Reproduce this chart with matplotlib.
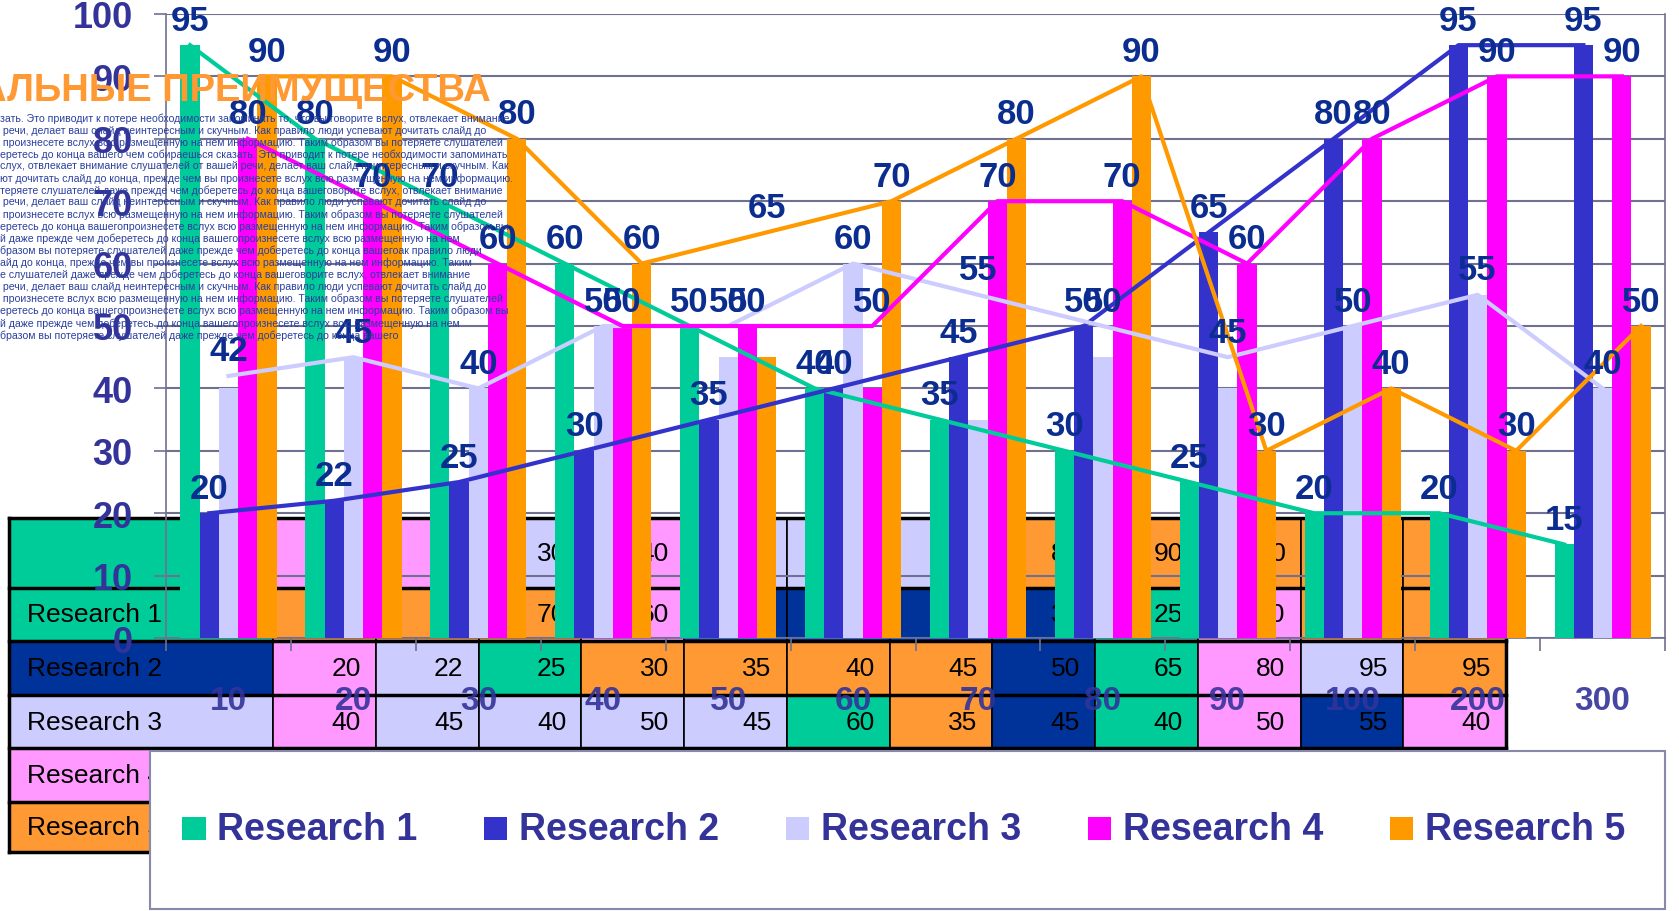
import matplotlib.pyplot as plt
import numpy as np
from matplotlib.patches import Rectangle

plt.rcParams["font.family"] = ["Liberation Sans", "DejaVu Sans"]

# categories and series (bars)
categories = ["10", "20", "30", "40", "50", "60", "70", "80", "90", "100", "200", "300"]
series_names = ["Research 1", "Research 2", "Research 3", "Research 4", "Research 5"]
research1 = [95, 80, 70, 60, 50, 40, 35, 30, 25, 20, 20, 15]
research2 = [20, 22, 25, 30, 35, 40, 45, 50, 65, 80, 95, 95]
research3 = [40, 45, 40, 50, 45, 60, 35, 45, 40, 50, 55, 40]
research4 = [80, 70, 60, 50, 50, 40, 70, 70, 60, 80, 90, 90]
research5 = [90, 90, 80, 60, 45, 70, 80, 90, 30, 40, 30, 50]

# line overlay values (labelled)
line1 = [95, 80, 70, 60, 50, 40, 35, 30, 25, 20, 20, 15]
line2 = [20, 22, 25, 30, 35, 40, 45, 50, 65, 80, 95, 95]
line3 = [42, 45, 40, 50, 50, 60, 55, 50, 45, 50, 55, 40]
line4 = [80, 70, 60, 50, 50, 50, 70, 70, 60, 80, 90, 90]
line5 = [90, 90, 80, 60, 65, 70, 80, 90, 30, 40, 30, 50]

COLORS = ["#00CC99", "#3333CC", "#CCCCFF", "#FF00FF", "#FF9900"]
GREEN, DBLUE, LAV, PINK, ORANGE = "#00CC99", "#003399", "#CCCCFF", "#FF99FF", "#FF9933"

title_text = "АЛЬНЫЕ ПРЕИМУЩЕСТВА"
body_lines = [
    "зать. Это приводит к потере необходимости запоминать то, что вы говорите вслух, отвлекает внимание",
    " речи, делает ваш слайд неинтересным и скучным. Как правило люди успевают дочитать слайд до",
    " произнесете вслух всю размещенную на нем информацию. Таким образом вы потеряете слушателей",
    "еретесь до конца вашего чем собираешься сказать. Это приводит к потере необходимости запоминать",
    "слух, отвлекает внимание слушателей от вашей речи, делает ваш слайд неинтересным и скучным. Как",
    "ют дочитать слайд до конца, прежде чем вы произнесете вслух всю размещенную на нем информацию.",
    "теряете слушателей даже прежде чем доберетесь до конца вашеговорите вслух, отвлекает внимание",
    " речи, делает ваш слайд неинтересным и скучным. Как правило люди успевают дочитать слайд до",
    " произнесете вслух всю размещенную на нем информацию. Таким образом вы потеряете слушателей",
    "еретесь до конца вашегопроизнесете вслух всю размещенную на нем информацию. Таким образом вы",
    "й даже прежде чем доберетесь до конца вашегопроизнесете вслух всю размещенную на нем",
    "бразом вы потеряете слушателей даже прежде чем доберетесь до конца вашегоак правило люди",
    "айд до конца, прежде чем вы произнесете вслух всю размещенную на нем информацию. Таким",
    "е слушателей даже прежде чем доберетесь до конца вашеговорите вслух, отвлекает внимание",
    " речи, делает ваш слайд неинтересным и скучным. Как правило люди успевают дочитать слайд до",
    " произнесете вслух всю размещенную на нем информацию. Таким образом вы потеряете слушателей",
    "еретесь до конца вашегопроизнесете вслух всю размещенную на нем информацию. Таким образом вы",
    "й даже прежде чем доберетесь до конца вашегопроизнесете вслух всю размещенную на нем",
    "бразом вы потеряете слушателей даже прежде чем доберетесь до конца вашего",
]

# cell colours of the data table (style only)
table_colors = [
    [GREEN, PINK, PINK, LAV, PINK, LAV, LAV, LAV, ORANGE, ORANGE, ORANGE, ORANGE, ORANGE],
    [GREEN, ORANGE, ORANGE, ORANGE, PINK, DBLUE, DBLUE, DBLUE, DBLUE, GREEN, PINK, ORANGE, ORANGE],
    [DBLUE, PINK, LAV, GREEN, ORANGE, ORANGE, ORANGE, ORANGE, DBLUE, GREEN, PINK, LAV, ORANGE],
    [LAV, PINK, LAV, LAV, LAV, LAV, GREEN, ORANGE, DBLUE, GREEN, PINK, DBLUE, PINK],
    [PINK] + [LAV] * 12,
    [ORANGE] + [ORANGE] * 12,
]

fig = plt.figure(figsize=(16.79, 9.12), dpi=100)

# ---- data table behind the chart (figure coordinates) ----
tab = fig.add_axes([0, 0, 1, 1], zorder=-1)
tab.set_xlim(0, 1)
tab.set_ylim(0, 1)
tab.axis("off")
col_x = [0.0051, 0.1626] + [0.1626 + 0.0612 * (k + 1) for k in range(12)]
row_y = [0.4308, 0.3545, 0.2958, 0.2371, 0.1784, 0.1197, 0.0646]
row_labels = ["", "Research 1", "Research 2", "Research 3", "Research 4", "Research 5"]
row_values = [categories, research1, research2, research3, research4, research5]
for r in range(6):
    top, bot = row_y[r], row_y[r + 1]
    for c in range(13):
        tab.add_patch(Rectangle((col_x[c], bot), col_x[c + 1] - col_x[c], top - bot,
                                facecolor=table_colors[r][c], edgecolor="black", lw=1.2))
    tab.text(col_x[0] + 0.011, (top + bot) / 2, row_labels[r], fontsize=19,
             va="center", ha="left", color="black")
    for c in range(12):
        tab.text(col_x[c + 2] - 0.009, (top + bot) / 2, str(row_values[r][c]),
                 fontsize=19, va="center", ha="right", color="black")
for y in row_y:
    tab.plot([col_x[0], col_x[-1]], [y, y], color="black", lw=2.5)
tab.plot([col_x[0], col_x[0]], [row_y[0], row_y[-1]], color="black", lw=2.5)
tab.plot([col_x[-1], col_x[-1]], [row_y[0], row_y[-1]], color="black", lw=2.5)

# ---- main chart ----
ax = fig.add_axes([0.0989, 0.2993, 0.8928, 0.6843], zorder=0)
ax.patch.set_alpha(0)
n = len(categories)
x = np.arange(n) + 0.5
bw = 0.154
bars = [research1, research2, research3, research4, research5]
lines = [line1, line2, line3, line4, line5]
for j, vals in enumerate(bars):
    ax.bar(x + (j - 2) * bw, vals, width=bw, color=COLORS[j], zorder=3)
for j, vals in enumerate(lines):
    xs = x + (j - 2) * bw
    ax.plot(xs, vals, color=COLORS[j], lw=3, zorder=4)
    for xi, v in zip(xs, vals):
        ax.text(xi, v + 4, str(v), ha="center", va="center", fontsize=25,
                fontweight="bold", color="#0B2D8F", zorder=6, clip_on=False)

ax.set_xlim(0, n)
ax.set_ylim(0, 100)
ax.set_yticks(range(0, 101, 10))
ax.set_yticklabels([str(v) for v in range(0, 101, 10)], fontsize=26,
                   fontweight="bold", color="#333399")
ax.set_xticks(range(n + 1))
ax.set_xticklabels([])
ax.tick_params(axis="y", length=9, width=1.2, color="#707090", pad=15)
ax.tick_params(axis="x", length=9, width=1.2, color="#707090")
ax.yaxis.grid(True, color="#707090", lw=1.5, zorder=1)
ax.set_axisbelow(True)
for s in ["left", "bottom", "right"]:
    ax.spines[s].set_color("#707090")
    ax.spines[s].set_linewidth(1.2)
ax.spines["top"].set_visible(False)
for xi, lab in zip(x, categories):
    ax.text(xi, -0.0995, lab, transform=ax.get_xaxis_transform(), ha="center",
            va="center", fontsize=24, fontweight="bold", color="#333399", alpha=0.9,
            clip_on=False, zorder=7)

# ---- legend box ----
fig.add_artist(Rectangle((0.0893, 0.0023), 0.9024, 0.1726, transform=fig.transFigure,
                         facecolor="white", edgecolor="#8888AA", lw=1.5, zorder=5))
for j, name in enumerate(series_names):
    lx = 0.1084 + 0.1798 * j
    fig.add_artist(Rectangle((lx, 0.0775), 0.014, 0.0258, transform=fig.transFigure,
                             facecolor=COLORS[j], edgecolor="none", zorder=6))
    fig.text(lx + 0.0211, 0.0904, name, fontsize=27, fontweight="bold",
             color="#333399", va="center", ha="left", zorder=6)

# ---- overlaid slide text ----
fig.text(0.292, 0.900, title_text, ha="right", va="center", fontsize=27.5,
         fontweight="bold", color="#FF9933", zorder=10)
fig.text(0.0, 0.8756, "\n".join(body_lines), ha="left", va="top", fontsize=7.6,
         linespacing=1.2, color="#2A3F9E", zorder=10)

fig.savefig("out.png", dpi=100)
